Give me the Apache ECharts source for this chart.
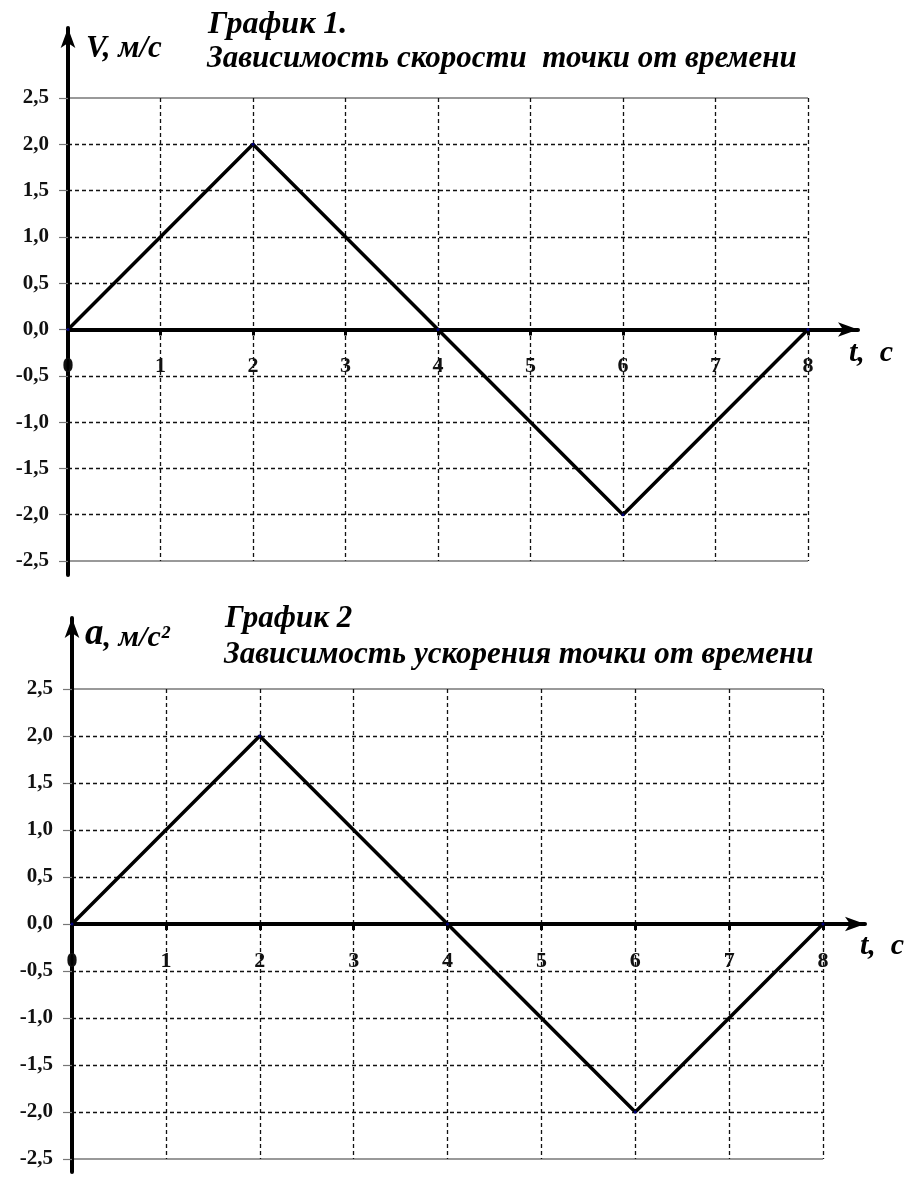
<!DOCTYPE html>
<html>
<head>
<meta charset="utf-8">
<script src="https://cdn.jsdelivr.net/npm/echarts@6/dist/echarts.min.js"></script>
<style>
html,body{margin:0;padding:0;background:#fff;}
#c{width:918px;height:1178px;}
</style>
</head>
<body>
<div id="c"></div>
<script>
// ---- data ----
const tValues = [0, 2, 4, 6, 8];
const speedValues = [0, 2, 0, -2, 0];      // График 1: V, м/с
const accelValues = [0, 2, 0, -2, 0];      // График 2: a, м/с²
const tTicks = [0, 1, 2, 3, 4, 5, 6, 7, 8];
const yTicks = [-2.5, -2.0, -1.5, -1.0, -0.5, 0.0, 0.5, 1.0, 1.5, 2.0, 2.5];
const title1 = 'График 1.';
const subtitle1 = 'Зависимость скорости  точки от времени';
const title2 = 'График 2';
const subtitle2 = 'Зависимость ускорения точки от времени';
const yName1 = 'V, м/с';
const yName2a = 'a';
const yName2b = ', м/с²';
const xName = 't,  c';

const FONT = 'Liberation Serif';
const fmtY = v => Number(v).toFixed(1).replace('.', ',');
const tMin = tTicks[0], tMax = tTicks[tTicks.length - 1];
const yMin = yTicks[0], yMax = yTicks[yTicks.length - 1];

const grids = [], xAxes = [], yAxes = [], series = [], titles = [];

function gridBox(o) {
  return Object.assign({containLabel: false, outerBoundsMode: 'none'}, o);
}

function addChart(L) {
  const g0 = grids.length;
  const half = L.height * (yMax / (yMax - yMin));
  // 0: main grid (grid lines, series, y labels)
  grids.push(gridBox({left: L.left, top: L.top, width: L.width, height: L.height}));
  // 1: upper half grid whose bottom edge is the zero line (t axis with ticks & labels)
  grids.push(gridBox({left: L.left, top: L.top, width: L.width, height: half}));
  // 2: upper half grid extended to the arrow tip
  grids.push(gridBox({left: L.left, top: L.top, width: L.arrowX - L.left, height: half}));
  // 3: vertical arrow axis
  grids.push(gridBox({left: L.left, top: L.arrowTop, width: 40, height: L.arrowBottom - L.arrowTop}));

  const x0 = xAxes.length, y0 = yAxes.length;
  // main grid x: vertical dashed grid lines only
  xAxes.push({
    gridIndex: g0, type: 'value', min: tMin, max: tMax, interval: 1,
    axisLine: {show: false, onZero: false}, axisTick: {show: false}, axisLabel: {show: false},
    splitLine: {show: true, showMinLine: false, showMaxLine: true,
      lineStyle: {color: '#111', width: 1.3, type: [4, 3]}}
  });
  // zero t axis with ticks and labels
  xAxes.push({
    gridIndex: g0 + 1, type: 'value', position: 'bottom', min: tMin, max: tMax, interval: 1,
    axisLine: {show: true, onZero: false, lineStyle: {color: '#000', width: 4}},
    axisTick: {show: true, length: 6, lineStyle: {color: '#000', width: 3}},
    axisLabel: {show: true, margin: 26, fontFamily: FONT, fontWeight: 'bold', fontSize: 22, color: '#111'},
    splitLine: {show: false}
  });
  // arrow extension of t axis
  xAxes.push({
    gridIndex: g0 + 2, type: 'value', position: 'bottom', min: 0, max: 1,
    axisLine: {show: true, onZero: false, symbol: ['none', 'arrow'], symbolSize: [11, 20],
      lineStyle: {color: '#000', width: 4}},
    axisTick: {show: false}, axisLabel: {show: false}, splitLine: {show: false}
  });
  // vertical arrow grid: hidden x
  xAxes.push({gridIndex: g0 + 3, type: 'value', min: 0, max: 1, show: false});

  // main y axis
  yAxes.push({
    gridIndex: g0, type: 'value', position: 'left', min: yMin, max: yMax, interval: 0.5,
    axisLine: {show: false, onZero: false},
    axisTick: {show: true, length: 9, lineStyle: {color: '#777', width: 1.2}},
    axisLabel: {show: true, margin: 19, fontFamily: FONT, fontWeight: 'bold', fontSize: 21, color: '#111',
      formatter: fmtY},
    splitLine: {show: true, showMinLine: false, showMaxLine: false,
      lineStyle: {color: '#111', width: 1.3, type: [4, 3]}}
  });
  // solid grey boundary lines at the extremes
  yAxes.push({
    gridIndex: g0, type: 'value', position: 'right', min: yMin, max: yMax, interval: 2.5,
    axisLine: {show: false, onZero: false}, axisTick: {show: false}, axisLabel: {show: false},
    splitLine: {show: true, lineStyle: {color: '#999', width: 2, type: 'solid'}}
  });
  yAxes.push({gridIndex: g0 + 1, type: 'value', min: 0, max: 1, show: false});
  yAxes.push({gridIndex: g0 + 2, type: 'value', min: 0, max: 1, show: false});
  // vertical arrow axis
  yAxes.push({
    gridIndex: g0 + 3, type: 'value', min: 0, max: 1, position: 'left',
    axisLine: {show: true, onZero: false, symbol: ['none', 'arrow'], symbolSize: [11, 20],
      lineStyle: {color: '#000', width: 4}},
    axisTick: {show: false}, axisLabel: {show: false}, splitLine: {show: false}
  });

  series.push({
    type: 'line', xAxisIndex: x0, yAxisIndex: y0,
    data: tValues.map((t, i) => [t, L.values[i]]),
    lineStyle: {color: '#000', width: 3.5},
    symbol: 'circle', symbolSize: 3, showSymbol: true,
    itemStyle: {color: '#00007a'},
    z: 5, animation: false
  });
}

addChart({left: 68, top: 98, width: 740, height: 463, arrowX: 858, arrowTop: 28, arrowBottom: 575, values: speedValues});
addChart({left: 72, top: 689, width: 751, height: 470, arrowX: 865, arrowTop: 618, arrowBottom: 1172, values: accelValues});

const tStyle = {fontFamily: FONT, fontStyle: 'italic', fontWeight: 'bold', color: '#000'};
titles.push(
  {text: title1, left: 208, top: 9, padding: 0, textStyle: Object.assign({fontSize: 32}, tStyle)},
  {text: subtitle1, left: 207, top: 43, padding: 0, textStyle: Object.assign({fontSize: 31}, tStyle)},
  {text: yName1, left: 86, top: 33, padding: 0, textStyle: Object.assign({fontSize: 31}, tStyle)},
  {text: xName, left: 849, top: 338, padding: 0, textStyle: Object.assign({fontSize: 30}, tStyle)},
  {text: title2, left: 225, top: 603, padding: 0, textStyle: Object.assign({fontSize: 31}, tStyle)},
  {text: subtitle2, left: 224, top: 639, padding: 0, textStyle: Object.assign({fontSize: 31}, tStyle)},
  {text: '{a|' + yName2a + '}{b|' + yName2b + '}', left: 85, top: 616, padding: 0,
    textStyle: Object.assign({fontSize: 30, rich: {
      a: {fontFamily: FONT, fontStyle: 'italic', fontSize: 37, color: '#000', verticalAlign: 'bottom'},
      b: {fontFamily: FONT, fontStyle: 'italic', fontWeight: 'bold', fontSize: 30, color: '#000', verticalAlign: 'bottom'}
    }}, tStyle)},
  {text: xName, left: 860, top: 931, padding: 0, textStyle: Object.assign({fontSize: 30}, tStyle)}
);

const chart = echarts.init(document.getElementById('c'), null, {renderer: 'canvas'});
chart.setOption({
  animation: false,
  backgroundColor: '#fff',
  title: titles,
  grid: grids,
  xAxis: xAxes,
  yAxis: yAxes,
  series: series
});
</script>
</body>
</html>
